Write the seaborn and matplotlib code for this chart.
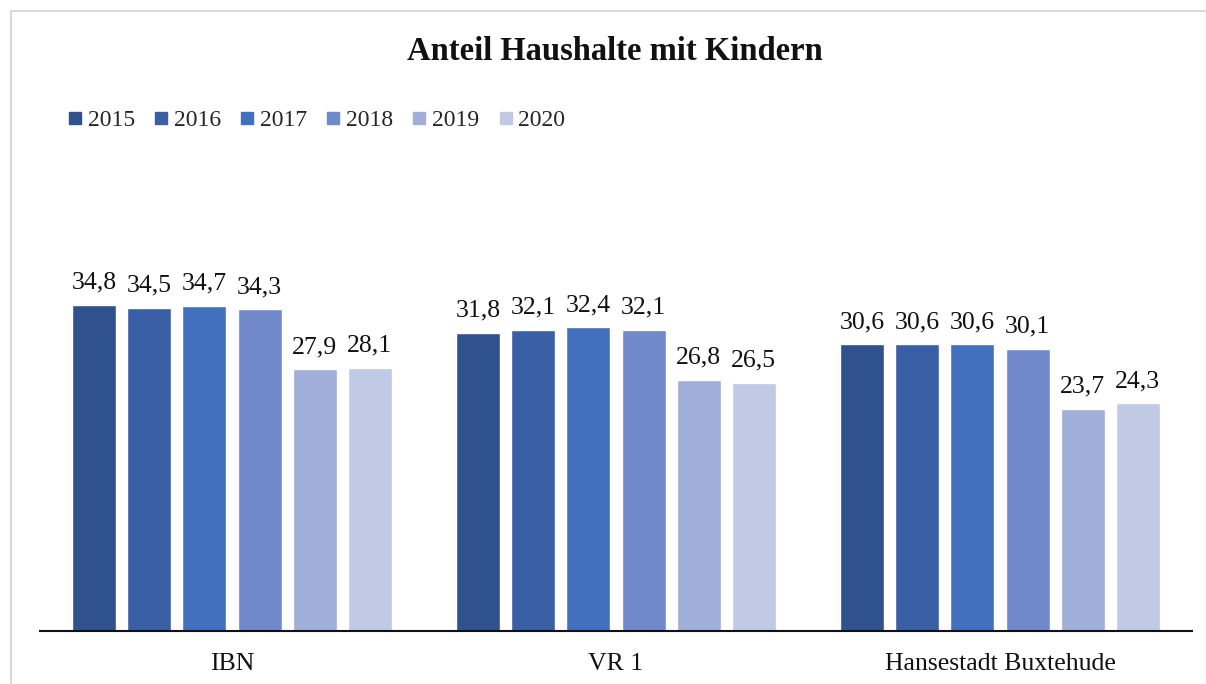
import matplotlib
matplotlib.use("Agg")
import matplotlib.pyplot as plt
import seaborn as sns
import pandas as pd
from matplotlib.patches import Rectangle
from matplotlib.lines import Line2D

categories = ["IBN", "VR 1", "Hansestadt Buxtehude"]
years = ["2015", "2016", "2017", "2018", "2019", "2020"]
values_2015 = [34.8, 31.8, 30.6]
values_2016 = [34.5, 32.1, 30.6]
values_2017 = [34.7, 32.4, 30.6]
values_2018 = [34.3, 32.1, 30.1]
values_2019 = [27.9, 26.8, 23.7]
values_2020 = [28.1, 26.5, 24.3]
colors = ["#2F528F", "#3A5FA7", "#4170BE", "#6F89CA", "#A0AED9", "#C1CAE5"]
title = "Anteil Haushalte mit Kindern"

series = [values_2015, values_2016, values_2017, values_2018, values_2019, values_2020]
rows = []
for y, vals in zip(years, series):
    for c, v in zip(categories, vals):
        rows.append({"Kategorie": c, "Jahr": y, "Wert": v})
df = pd.DataFrame(rows)

sns.set_style("white")
plt.rcParams["font.family"] = ["Liberation Serif", "DejaVu Serif"]

W, H = 1206, 684
fig = plt.figure(figsize=(W / 100, H / 100), dpi=100)
ax = fig.add_axes([40 / W, 53 / H, (1192 - 40) / W, (631 - 256) / H])

sns.barplot(data=df, x="Kategorie", y="Wert", hue="Jahr", order=categories,
            hue_order=years, palette=colors, width=0.86, gap=0.2,
            saturation=1, ax=ax, legend=False, errorbar=None)

ax.set_ylim(0, 40)
ax.set_xlim(-0.5, 2.5)
for cont, vals in zip(ax.containers, series):
    ax.bar_label(cont, labels=[f"{v:.1f}".replace(".", ",") for v in vals],
                 padding=8, fontsize=18.5, color="#111111")

for s in ["top", "right", "left"]:
    ax.spines[s].set_visible(False)
ax.spines["bottom"].set_color("#111111")
ax.spines["bottom"].set_linewidth(1.5)
ax.set_yticks([])
ax.set_xlabel("")
ax.set_ylabel("")
ax.tick_params(axis="x", length=0, labelsize=18.5, pad=16, colors="#111111")

fig.text(615 / W, 1 - 51 / H, title, ha="center", va="center",
         fontsize=23.5, fontweight="bold", color="#111111")

handles = [Line2D([0], [0], marker="s", linestyle="none", markersize=8.7,
                  markerfacecolor=c, markeredgecolor=c) for c in colors]
fig.legend(handles, years, loc="center left", bbox_to_anchor=(68 / W, 1 - 120 / H),
           ncol=6, frameon=False, fontsize=17, handlelength=0.6,
           handletextpad=0.25, columnspacing=0.8, borderpad=0, borderaxespad=0)

fig.add_artist(Rectangle((10.5 / W, -0.1), 1.2, 1 - 11 / H + 0.1,
                         transform=fig.transFigure, fill=False,
                         edgecolor="#d9d9d9", linewidth=1.5))

fig.savefig("out.png", dpi=100, facecolor="white")
